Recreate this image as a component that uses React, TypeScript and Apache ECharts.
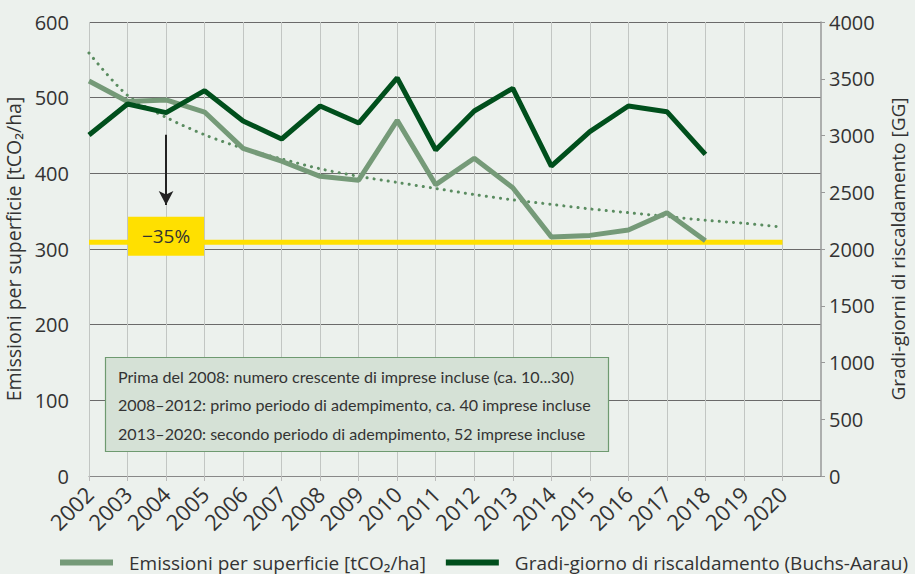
import React, { useEffect, useRef } from "react";
import * as echarts from "echarts";

const years = ["2002","2003","2004","2005","2006","2007","2008","2009","2010","2011","2012","2013","2014","2015","2016","2017","2018","2019","2020",""];
const emissions = [522, 495, 497, 481, 433, 416, 396, 391, 470, 385, 420, 381, 316, 318, 325, 348, 311, null, null];
const degreeDays = [3004, 3278, 3201, 3395, 3128, 2969, 3260, 3110, 3507, 2872, 3216, 3416, 2731, 3034, 3260, 3210, 2834, null, null];
const trend = [559, 503, 474, 451, 433, 419, 406, 396, 388, 380, 372, 365, 359, 353, 348, 343, 338, 334, 329];
const target = [309, 309, 309, 309, 309, 309, 309, 309, 309, 309, 309, 309, 309, 309, 309, 309, 309, 309, 309];
const leftTicks = { min: 0, max: 600, interval: 100 };
const rightTicks = { min: 0, max: 4000, interval: 500 };
const reductionLabel = "\u221235%";
const notes = [
  "Prima del 2008: numero crescente di imprese incluse (ca. 10...30)",
  "2008\u20132012: primo periodo di adempimento, ca. 40 imprese incluse",
  "2013\u20132020: secondo periodo di adempimento, 52 imprese incluse",
];
const nameEm = "Emissioni per superficie [tCO\u2082/ha]";
const nameGG = "Gradi-giorno di riscaldamento (Buchs-Aarau)";

const FONT = "Open Sans";
const TXT = "#333333";

export default function App() {
  const ref = useRef<HTMLDivElement>(null);
  useEffect(() => {
    if (!ref.current) return;
    const chart = echarts.init(ref.current, null, { renderer: "svg" });
    chart.setOption({
      animation: false,
      backgroundColor: "#ECF1ED",
      textStyle: { fontFamily: FONT, color: TXT },
      grid: { left: 89, right: 94, top: 22, bottom: 98, containLabel: false, outerBoundsMode: "none" },
      title: {
        left: 105,
        top: 357,
        text: notes.join("\n"),
        padding: [5, 17, 4, 13],
        backgroundColor: "#D5E1D6",
        borderColor: "#6E9A70",
        borderWidth: 1.2,
        z: 10,
        textStyle: {
          fontFamily: "Lato",
          fontSize: 16.1,
          fontWeight: "normal",
          color: TXT,
          lineHeight: 28.5,
          width: 474,
        },
      },
      legend: {
        left: 60,
        top: 553,
        width: 860,
        padding: 0,
        data: [nameEm, nameGG],
        icon: "rect",
        itemWidth: 53,
        itemHeight: 6,
        itemGap: 20,
        textStyle: { fontSize: 19, color: TXT, fontFamily: FONT, padding: [0, 0, 0, 11] },
      },
      xAxis: {
        type: "category",
        data: years,
        boundaryGap: false,
        axisLine: { show: true, lineStyle: { color: "#888888", width: 1 } },
        axisTick: { show: true, length: 5, interval: (i: number) => i < 19, lineStyle: { color: "#bbbbbb" } },
        splitLine: { show: true, interval: (i: number) => i < 19, lineStyle: { color: "#c2c6c3", width: 1 } },
        axisLabel: {
          rotate: 45,
          color: TXT,
          margin: 14,
          interval: 0,
          hideOverlap: false,
          fontSize: 22,
          fontFamily: FONT,
        },
      },
      yAxis: [
        {
          type: "value",
          ...leftTicks,
          name: "Emissioni per superficie [tCO\u2082/ha]",
          nameLocation: "middle",
          nameGap: 66,
          nameTextStyle: { fontSize: 19.5, color: TXT, fontFamily: FONT },
          axisLine: { show: false },
          axisTick: { show: false },
          axisLabel: { fontSize: 20, color: TXT, margin: 20, fontFamily: FONT },
          splitLine: { show: true, lineStyle: { color: "#6a6a6a", width: 1 } },
        },
        {
          type: "value",
          ...rightTicks,
          position: "right",
          name: "Gradi-giorni di riscaldamento [GG]",
          nameLocation: "middle",
          nameGap: 67,
          nameTextStyle: { fontSize: 19, color: TXT, fontFamily: FONT },
          axisLine: { show: true, lineStyle: { color: "#999999", width: 1.5 } },
          axisTick: { show: true, length: 4, lineStyle: { color: "#999999" } },
          axisLabel: { fontSize: 20, color: TXT, margin: 8, fontFamily: FONT, formatter: (v: number) => String(v) },
          splitLine: { show: false },
        },
      ],
      series: [
        {
          name: "target",
          type: "line",
          data: target,
          symbol: "none",
          lineStyle: { color: "#FFE000", width: 5 },
          z: 3,
          markPoint: {
            symbol: "rect",
            symbolSize: [76, 39],
            symbolOffset: [0, -6],
            itemStyle: { color: "#FFE000" },
            label: { show: true, formatter: reductionLabel, fontSize: 19, color: TXT, fontFamily: FONT },
            data: [{ coord: ["2004", 309] }],
          },
        },
        {
          name: "trend",
          type: "line",
          data: trend,
          symbol: "none",
          smooth: 0.3,
          lineStyle: { color: "#5A8C60", width: 3, type: [0.1, 7], cap: "round" },
          z: 2,
        },
        {
          name: nameEm,
          type: "line",
          data: emissions,
          symbol: "none",
          color: "#759A78",
          lineStyle: { color: "#759A78", width: 5 },
          z: 4,
          markLine: {
            silent: true,
            symbol: ["none", "arrow"],
            symbolSize: [11, 14],
            lineStyle: { color: "#222222", width: 2, type: "solid" },
            label: { show: false },
            data: [[{ coord: ["2004", 451] }, { coord: ["2004", 358] }]],
          },
        },
        {
          name: nameGG,
          type: "line",
          yAxisIndex: 1,
          data: degreeDays,
          symbol: "none",
          color: "#004F1C",
          lineStyle: { color: "#004F1C", width: 5 },
          z: 5,
        },
      ],
    });
    return () => chart.dispose();
  }, []);
  return <div ref={ref} style={{ width: 915, height: 574, position: "absolute", left: 0, top: 0 }} />;
}
